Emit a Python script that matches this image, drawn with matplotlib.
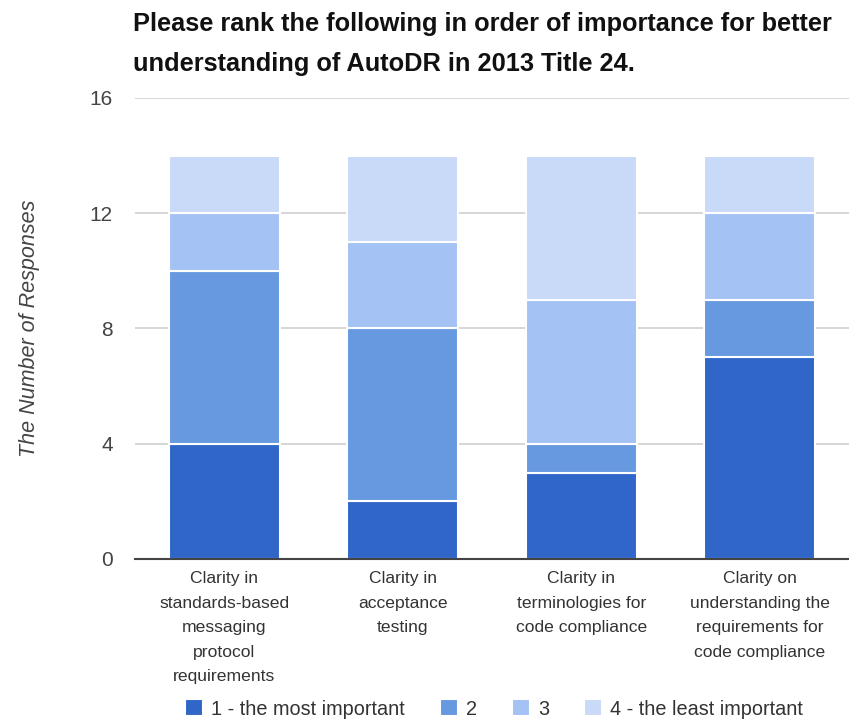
import matplotlib
matplotlib.use("Agg")
import matplotlib.pyplot as plt
import numpy as np

categories = [
    "Clarity in\nstandards-based\nmessaging\nprotocol\nrequirements",
    "Clarity in\nacceptance\ntesting",
    "Clarity in\nterminologies for\ncode compliance",
    "Clarity on\nunderstanding the\nrequirements for\ncode compliance",
]
series_names = ["1 - the most important", "2", "3", "4 - the least important"]
rank1 = [4, 2, 3, 7]
rank2 = [6, 6, 1, 2]
rank3 = [2, 3, 5, 3]
rank4 = [2, 3, 5, 2]
colors = ["#2f66c8", "#6699e0", "#a4c2f4", "#c9daf8"]
yticks = [0, 4, 8, 12, 16]

plt.rcParams['font.family'] = ['Liberation Sans', 'DejaVu Sans']

fig = plt.figure(figsize=(8.49, 7.22), dpi=100)
ax = fig.add_axes([0.159, 0.2258, 0.841, 0.6385])

x = np.arange(len(categories))
bottom = np.zeros(len(categories))
for vals, name, c in zip([rank1, rank2, rank3, rank4], series_names, colors):
    ax.bar(x, vals, bottom=bottom, width=0.62, color=c, edgecolor="white",
           linewidth=1.5, label=name, zorder=3)
    bottom += np.array(vals)

ax.set_xlim(-0.5, 3.5)
ax.set_ylim(0, 16)
ax.set_yticks(yticks)
ax.set_yticklabels([str(t) for t in yticks], fontsize=15, color="#444444")
ax.yaxis.grid(True, color="#d0d0d0", linewidth=1.2, zorder=0)
ax.set_axisbelow(True)
for s in ["top", "right", "left"]:
    ax.spines[s].set_visible(False)
ax.spines["bottom"].set_color("#444444")
ax.spines["bottom"].set_linewidth(1.5)
ax.spines["bottom"].set_zorder(4)
ax.tick_params(axis="y", length=0, pad=16)
ax.tick_params(axis="x", length=0, pad=9)
ax.set_xticks(x)
ax.set_xticklabels(categories, fontsize=12.6, color="#333333", linespacing=1.78)

ax.set_ylabel("The Number of Responses", fontsize=15.5, style="italic",
              color="#444444", labelpad=36)

fig.text(0.157, 0.983, "Please rank the following in order of importance for better\nunderstanding of AutoDR in 2013 Title 24.",
         fontsize=18.3, fontweight="bold", ha="left", va="top", linespacing=1.85,
         color="#111111")

fig.legend(loc="lower center", bbox_to_anchor=(0.582, -0.02), ncol=4, frameon=False,
           fontsize=14.3, handlelength=0.9, handleheight=0.9, columnspacing=1.77,
           handletextpad=0.4, labelcolor="#333333")

fig.savefig("out.png", dpi=100)
